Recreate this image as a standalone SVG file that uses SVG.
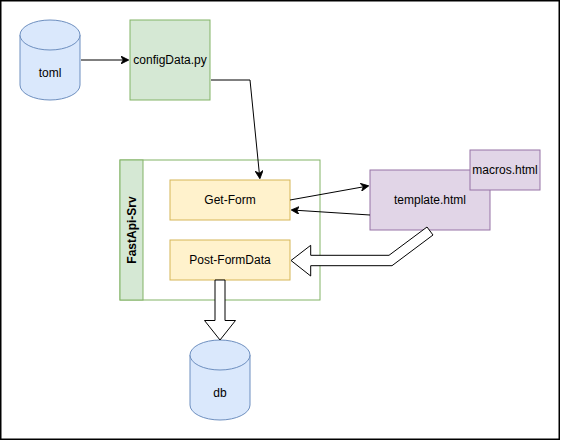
<svg xmlns="http://www.w3.org/2000/svg" width="561" height="441" viewBox="0 0 561 441">
<style>
text{font-family:"Liberation Sans",Arial,sans-serif;font-size:12px;fill:#000;text-anchor:middle;dominant-baseline:central}
.cyl{fill:#dae8fc;stroke:#6c8ebf;stroke-width:1}
.green{fill:#d5e8d4;stroke:#82b366;stroke-width:1}
.yellow{fill:#fff2cc;stroke:#d6b656;stroke-width:1}
.purple{fill:#e1d5e7;stroke:#9673a6;stroke-width:1}
.edge{fill:none;stroke:#000;stroke-width:1}
.flex{fill:#fff;stroke:#000;stroke-width:1;stroke-linejoin:miter}
</style>
<defs>
<marker id="arr" viewBox="0 0 10 10" refX="9" refY="5" markerWidth="8" markerHeight="8" markerUnits="userSpaceOnUse" orient="auto">
<path d="M0,0 L10,5 L0,10 L3,5 Z" fill="#000" stroke="#000" stroke-width="1"/>
</marker>
</defs>
<rect x="0.75" y="0.75" width="558.5" height="438.5" fill="#fff" stroke="#000" stroke-width="1.5"/>
<g id="toml">
<path class="cyl" d="M20,35 A30,15 0 0 1 80,35 L80,85 A30,15 0 0 1 20,85 Z"/>
<path class="cyl" d="M20,35 A30,15 0 0 0 80,35" fill="none"/>
<text x="50" y="73">toml</text>
</g>
<g id="configData">
<rect class="green" x="130" y="20" width="80" height="80"/>
<text x="170" y="60">configData.py</text>
</g>
<g id="fastapi-srv">
<rect x="120" y="160" width="200" height="140" fill="#fff" stroke="#82b366"/>
<rect class="green" x="120" y="160" width="23" height="140"/>
<text x="131.5" y="230" font-weight="bold" transform="rotate(-90 131.5 230)">FastApi-Srv</text>
</g>
<g id="get-form">
<rect class="yellow" x="170" y="180" width="120" height="40"/>
<text x="230" y="200">Get-Form</text>
</g>
<g id="post-formdata">
<rect class="yellow" x="170" y="240" width="120" height="40"/>
<text x="230" y="260">Post-FormData</text>
</g>
<g id="template">
<rect class="purple" x="370" y="170" width="120" height="60"/>
<text x="430" y="200">template.html</text>
</g>
<g id="macros">
<rect class="purple" x="470" y="150" width="70" height="40"/>
<text x="505" y="170">macros.html</text>
</g>
<g id="db">
<path class="cyl" d="M190,355 A30,15 0 0 1 250,355 L250,405 A30,15 0 0 1 190,405 Z"/>
<path class="cyl" d="M190,355 A30,15 0 0 0 250,355" fill="none"/>
<text x="220" y="393">db</text>
</g>
<g id="connectors">
<path class="edge" d="M81,60 L128,60" marker-end="url(#arr)"/>
<path class="edge" d="M211,80 L250,80 L259.8,178" marker-end="url(#arr)"/>
<path class="edge" d="M290,200 L368,186" marker-end="url(#arr)"/>
<path class="edge" d="M370,215 L292,210" marker-end="url(#arr)"/>
<path class="flex" d="M427,227 L433,235 L392,265.7 L310.7,265.7 L310.7,276 L291,260.5 L310.7,245.3 L310.7,255.3 L389,255.3 Z"/>
<path class="flex" d="M215,280 L225,280 L225,320.5 L235.5,320.5 L220,340 L204.5,320.5 L215,320.5 Z"/>
</g>
</svg>
